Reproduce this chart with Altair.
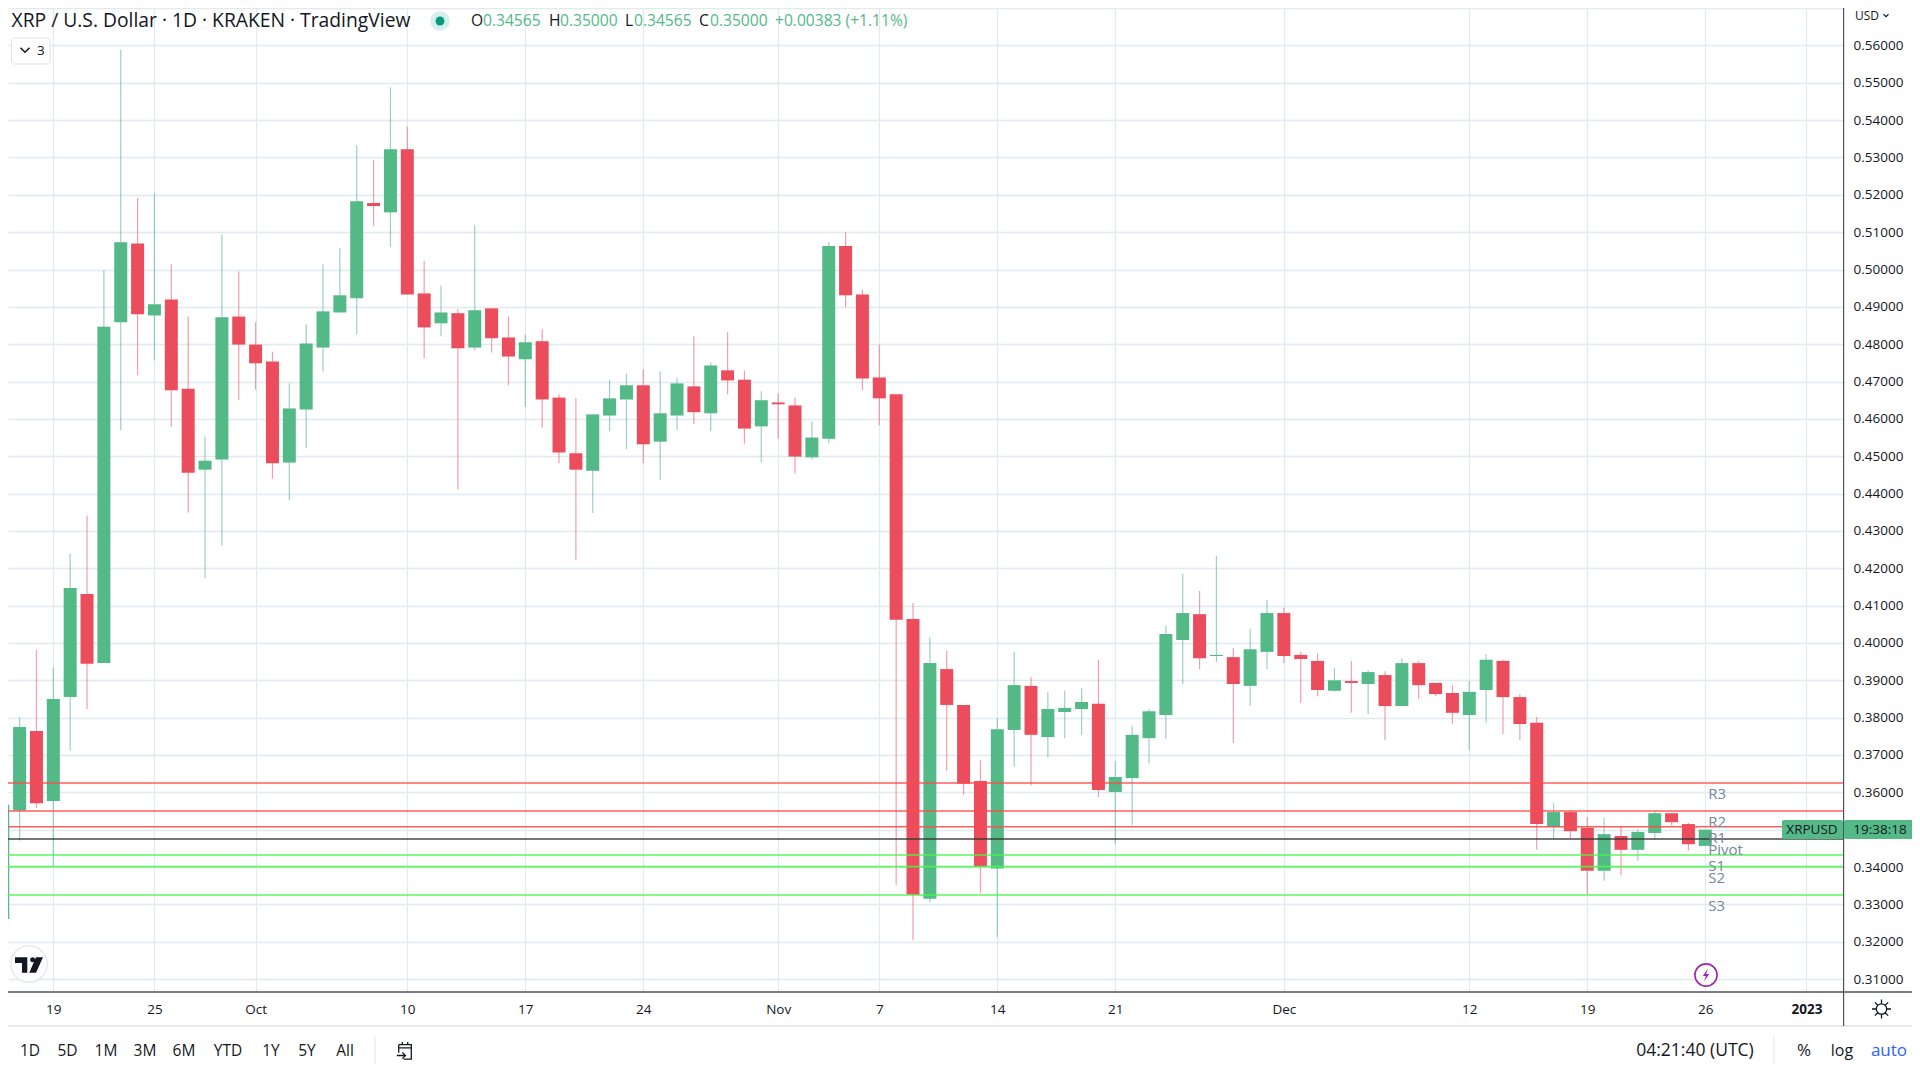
import altair as alt
import pandas as pd

dates = pd.date_range("2022-09-16", "2022-12-26", freq="D")

opens = [.3261,.3551,.3764,.3577,.3855,.4131,.3946,.4859,.5070,.4877,.4920,.4681,.4464,.4491,.4874,
 .4799,.4754,.4483,.4625,.4791,.4885,.4923,.5178,.5153,.5322,.4936,.4856,.4883,.4791,.4896,.4818,.4760,.4808,.4657,.4508,.4461,.4609,.4652,.4690,.4539,.4609,.4687,.4615,.4730,.4705,.4580,
 .4644,.4636,.4497,.4547,.5063,.4933,.4711,.4666,.4064,.3315,.3930,.3834,.3630,.3396,.3767,.3885,.3748,.3815,.3823,.3837,.3601,.3638,.3745,.3807,.4008,.4077,.3965,.3962,.3885,.3976,
 .4080,.3968,.3952,.3872,.3898,.3890,.3914,.3831,.3946,.3893,.3866,.3807,.3874,.3952,.3855,.3786,.3507,.3547,.3505,.3390,.3483,.3446,.3491,.3544,.3515,.34565]
highs = [.3577,.3801,.3981,.3935,.4238,.4341,.4998,.5588,.5191,.5205,.5014,.4874,.4553,.5094,.4995,
 .4859,.4780,.4695,.4853,.5014,.5057,.5333,.5293,.5488,.5382,.5023,.4957,.4894,.5119,.4896,.4874,.4826,.4840,.4666,.4655,.4612,.4705,.4722,.4733,.4727,.4711,.4821,.4751,.4832,.4730,.4674,
 .4668,.4657,.4594,.5073,.5100,.4946,.4799,.4666,.4107,.4016,.3979,.3834,.3687,.3800,.3976,.3909,.3869,.3872,.3879,.3955,.3684,.3778,.3823,.4047,.4185,.4139,.4233,.3986,.4038,.4115,
 .4094,.3976,.3973,.3933,.3952,.3927,.3924,.3959,.3952,.3893,.3887,.3898,.3970,.3955,.3863,.3802,.3571,.3553,.3534,.3531,.3508,.3501,.3550,.3544,.3518,.35000]
lows = [.3219,.3471,.3558,.3401,.3711,.3823,.3946,.4570,.4717,.4757,.4580,.4349,.4174,.4260,.4650,
 .4678,.4440,.4382,.4522,.4727,.4885,.4826,.5116,.5060,.4933,.4762,.4821,.4411,.4784,.4778,.4690,.4632,.4577,.4481,.4222,.4348,.4567,.4519,.4481,.4436,.4570,.4586,.4567,.4666,.4534,.4483,
 .4547,.4454,.4491,.4534,.4899,.4677,.4583,.3352,.3203,.3305,.3658,.3593,.3330,.3212,.3668,.3618,.3693,.3745,.3754,.3588,.3460,.3512,.3678,.3743,.3890,.3930,.3949,.3732,.3831,.3930,
 .3946,.3839,.3858,.3869,.3813,.3810,.3740,.3831,.3850,.3858,.3783,.3713,.3786,.3756,.3740,.3446,.3475,.3478,.3326,.3363,.3377,.3416,.3473,.3512,.3444,.34565]
closes = [.3567,.3775,.3571,.3850,.4147,.3944,.4847,.5073,.4880,.4907,.4677,.4456,.4488,.4872,.4799,
 .4749,.4481,.4628,.4802,.4888,.4931,.5183,.5170,.5322,.4933,.4845,.4885,.4789,.4891,.4816,.4767,.4805,.4652,.4510,.4464,.4612,.4655,.4690,.4532,.4615,.4695,.4618,.4743,.4703,.4574,.4650,
 .4639,.4499,.4550,.5063,.4931,.4708,.4655,.4062,.3326,.3946,.3834,.3623,.3401,.3769,.3887,.3754,.3823,.3826,.3842,.3606,.3641,.3754,.3817,.4024,.4080,.3959,.3968,.3890,.3983,.4080,
 .3965,.3957,.3874,.3900,.3893,.3922,.3831,.3946,.3887,.3863,.3813,.3869,.3955,.3855,.3783,.3515,.3547,.3496,.3390,.3488,.3446,.3494,.3544,.3520,.3461,.35000]

level_names = ["R3", "R2", "R1", "Pivot", "S1", "S2", "S3"]
level_values = [.3625, .3550, .3508, .3475, .3432, .3401, .3325]
level_colors = ["#ff4d4d", "#ff4d4d", "#ff4d4d", "#333333", "#4cf54c", "#4cf54c", "#4cf54c"]

price_ticks = [.31,.32,.33,.34,.35,.36,.37,.38,.39,.40,.41,.42,.43,.44,.45,.46,.47,.48,.49,.50,.51,.52,.53,.54,.55,.56]
price_labels_hidden = [.57]
time_ticks = ["2022-09-19","2022-09-25","2022-10-01","2022-10-10","2022-10-17","2022-10-24","2022-11-01",
              "2022-11-07","2022-11-14","2022-11-21","2022-12-01","2022-12-12","2022-12-19","2022-12-26","2023-01-01"]

GREEN, RED = "#53b987", "#eb4d5c"
INK, FONT = "#131722", "Open Sans"
GRID = "#e0ebf0"

df = pd.DataFrame({"date": dates, "open": opens, "high": highs, "low": lows, "close": closes})
lv = pd.DataFrame({"name": level_names, "price": level_values, "col": level_colors,
                   "date": [pd.Timestamp("2022-12-26")] * 7})

W, H = 1836, 984
xs = alt.Scale(type="utc", padding=0, domain=[pd.Timestamp("2022-09-16T07:29:00").isoformat(), pd.Timestamp("2023-01-03T05:30:00").isoformat()])
ys = alt.Scale(domain=[0.30653, 0.57003], nice=False, zero=False)
tick_ms = [int(pd.Timestamp(t, tz="UTC").timestamp() * 1000) for t in time_ticks]

x_axis = alt.Axis(values=tick_ms, title=None, grid=True, gridColor=GRID, gridWidth=1.2, domain=False, ticks=False,
                  labelPadding=10, labelFont=FONT, labelFontSize=13.5, labelColor=INK, labelOverlap=False, labelFlush=False,
                  labelExpr="utcdate(datum.value)==1 ? (utcmonth(datum.value)==0 ? utcFormat(datum.value,'%Y') : utcFormat(datum.value,'%b')) : utcFormat(datum.value,'%-d')",
                  labelFontWeight={"condition": {"test": "utcyear(datum.value)==2023", "value": "bold"}, "value": "normal"})
y_axis = alt.Axis(values=price_ticks + price_labels_hidden, orient="right", title=None, grid=True, gridColor=GRID, gridWidth=1.3,
                  domain=False, ticks=False, labelPadding=9, labelFont=FONT, labelFontSize=13.5, labelColor=INK, labelOverlap=False,
                  labelExpr="datum.value>0.565 ? '' : format(datum.value,'.5f')")

def X():
    return alt.X("date:T", scale=xs, axis=x_axis)

def Y(f):
    return alt.Y(f, scale=ys, axis=y_axis)

c = alt.Chart(df)
wicks = c.mark_rule(strokeWidth=1.2, opacity=0.55, clip=True).encode(
    x=X(), y=Y("low:Q"), y2="high:Q",
    color=alt.condition("datum.close>=datum.open", alt.value("#4aa5a0"), alt.value("#f04d66")))
bodies = c.mark_bar(size=13, clip=True).encode(
    x=X(), y=Y("open:Q"), y2="close:Q",
    color=alt.condition("datum.close>=datum.open", alt.value(GREEN), alt.value(RED)))
lines = alt.Chart(lv).mark_rule(strokeWidth=1.6, opacity=0.9).encode(
    y=Y("price:Q"), color=alt.Color("col:N", scale=None))
lv_text = alt.Chart(lv).mark_text(align="left", baseline="middle", dx=3, dy=11, fontSize=15, font=FONT, color="#74879b").encode(
    x=X(), y=Y("price:Q"), text="name:N")

one = alt.Chart(pd.DataFrame({"_": [0]}))

def txt(s, x, y, size=14, color=INK, align="left", weight="normal"):
    return one.mark_text(text=s, align=align, baseline="middle", fontSize=size, color=color, fontWeight=weight, font=FONT).encode(
        x=alt.value(x - 8), y=alt.value(y - 8))

def hrule(a, b, y, color, w=1):
    return one.mark_rule(color=color, strokeWidth=w).encode(x=alt.value(a - 8), x2=alt.value(b - 8), y=alt.value(y - 8))

def vrule(x, a, b, color, w=1):
    return one.mark_rule(color=color, strokeWidth=w).encode(x=alt.value(x - 8), y=alt.value(a - 8), y2=alt.value(b - 8))

def box(a, b, t, u, fill, stroke=None, r=0):
    kw = {"stroke": stroke, "strokeWidth": 1} if stroke else {}
    return one.mark_rect(color=fill, cornerRadius=r, **kw).encode(
        x=alt.value(a - 8), x2=alt.value(b - 8), y=alt.value(t - 8), y2=alt.value(u - 8))

def icon(path, x, y, d, stroke=None, fill=None, w=1.4):
    kw = {}
    if fill:
        kw.update(fill=fill, filled=True, opacity=1, strokeWidth=0)
    else:
        kw.update(stroke=stroke, filled=False, strokeWidth=w, opacity=1)
    return one.mark_point(shape=path, size=d * d, **kw).encode(x=alt.value(x - 8), y=alt.value(y - 8))

def dot(x, y, d, fill=None, stroke=None, w=1.5):
    kw = {"fill": fill if fill else "#ffffff", "filled": True, "opacity": 1}
    if stroke:
        kw.update(stroke=stroke, strokeWidth=w)
    else:
        kw.update(strokeWidth=0)
    return one.mark_point(shape="circle", size=3.1416 * d * d / 4, **kw).encode(x=alt.value(x - 8), y=alt.value(y - 8))

GEAR = ("M-0.55,0A0.55,0.55 0 1,1 0.55,0A0.55,0.55 0 1,1 -0.55,0Z M0,-0.55L0,-1 M0,0.55L0,1 M-0.55,0L-1,0 M0.55,0L1,0 "
        "M-0.39,-0.39L-0.7,-0.7 M0.39,-0.39L0.7,-0.7 M-0.39,0.39L-0.7,0.7 M0.39,0.39L0.7,0.7")
BOLT = "M0.25,-0.8L-0.4,0.12L-0.02,0.12L-0.25,0.8L0.4,-0.12L0.02,-0.12Z"
CAL = ("M-0.7,-0.7L0.7,-0.7L0.7,0.9L-0.15,0.9 M-0.7,-0.7L-0.7,0.2 M-0.7,-0.35L0.7,-0.35 M-0.3,-1L-0.3,-0.7 M0.3,-1L0.3,-0.7 "
       "M-0.9,0.5L0.05,0.5 M-0.3,0.15L0.05,0.5L-0.3,0.85")
TV = "M-1,-0.55L-0.12,-0.55L-0.12,0.55L-0.5,0.55L-0.5,-0.15L-1,-0.15Z M0.5,-0.55L1,-0.55L0.5,0.55L0.02,0.55Z M0.08,-0.37A0.18,0.18 0 1,1 0.08,-0.369Z"
CHEV = "M-1,-0.5L0,0.5L1,-0.5"

OH = 15.6
chrome = [
    # frame
    hrule(8, 1912, 992, "#50535e", 1.5),
    hrule(8, 1912, 1026, "#e0e3eb", 1.5),
    vrule(1843.6, 8, 1026, "#50535e", 1.2),
    vrule(375, 1037, 1064, "#e0e3eb"),
    vrule(1774, 1037, 1064, "#e0e3eb"),
    # header
    txt("XRP / U.S. Dollar · 1D · KRAKEN · TradingView", 11.5, 21, 19.3),
    dot(440, 21, 22, fill="#d5f0ea"),
    dot(440, 21, 10, fill="#089981"),
    txt("O", 471, 21, OH), txt("0.34565", 483, 21, OH, GREEN),
    txt("H", 549, 21, OH), txt("0.35000", 560, 21, OH, GREEN),
    txt("L", 625, 21, OH), txt("0.34565", 634, 21, OH, GREEN),
    txt("C", 699, 21, OH), txt("0.35000", 710, 21, OH, GREEN),
    txt("+0.00383 (+1.11%)", 775, 21, OH, GREEN),
    box(11.5, 50, 38, 64, "#ffffff", "#e0e3eb", 3),
    icon(CHEV, 25, 50, 9, stroke=INK, w=1.5),
    txt("3", 37, 51, 13.5),
    # logo
    dot(29, 964, 41, fill="#ffffff", stroke="#e8e9ee", w=1.5),
    icon(TV, 29, 965, 28, fill=INK),
    # flash icon
    dot(1706, 975, 25, fill="#ffffff", stroke="#9c27b0", w=1.6),
    icon(BOLT, 1706, 975, 16, fill="#9c27b0"),
    # price scale
    txt("USD", 1855, 16, 12),
    icon(CHEV, 1886, 15.5, 5, stroke=INK, w=1.1),
    box(1782, 1843, 820, 839, GREEN, None, 2),
    box(1844, 1915, 820, 839, GREEN, None, 2),
    txt("XRPUSD", 1812, 830, 13.5, align="center"),
    txt("19:38:18", 1880, 830, 13.5, align="center"),
    icon(GEAR, 1881.5, 1009, 19, stroke=INK, w=1.3),
    # bottom bar
    icon(CAL, 405, 1051, 18, stroke=INK, w=1.3),
    txt("04:21:40 (UTC)", 1695, 1051, 17.5, align="center"),
    txt("%", 1804, 1051, 17, align="center"),
    txt("log", 1842, 1051, 16, align="center"),
    txt("auto", 1889, 1051, 17, "#2962ff", align="center"),
]
for s, cx in zip(["1D", "5D", "1M", "3M", "6M", "YTD", "1Y", "5Y", "All"], [30, 67.5, 106, 145, 184, 228, 271, 307, 345]):
    chrome.append(txt(s, cx, 1051, 15.5, align="center"))

chart = alt.layer(wicks, bodies, lines, lv_text, *chrome).properties(
    width=W, height=H, background="#ffffff",
    padding={"left": 0, "top": 0, "right": 68, "bottom": 76},
    autosize=alt.AutoSizeParams(type="none"),
).configure_view(stroke=None)

chart.save("out.html", embed_options={"renderer": "svg", "actions": False})
